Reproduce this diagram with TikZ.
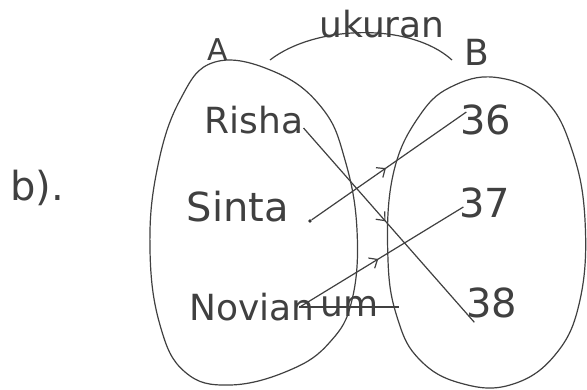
\documentclass[tikz,border=0pt]{standalone}
\usepackage{fontspec}
\newfontfamily\hand{DejaVu Sans}
\usetikzlibrary{arrows.meta,decorations.markings}
\begin{document}
\begin{tikzpicture}[x=1pt,y=-1pt,
  lbl/.style={font=\hand\fontsize{36}{36}\selectfont, text=black!75, inner sep=0pt},
  biglbl/.style={lbl, font=\hand\fontsize{40}{40}\selectfont},
  setline/.style={draw=black!75, line width=1.2pt},
  link/.style={setline, postaction={decorate},
    decoration={markings, mark=at position 0.48 with {\arrow{Straight Barb[length=7pt,width=12pt,line width=1.2pt]}}}},
  dotnode/.style={circle, fill=black!80, inner sep=1.3pt}]
\useasboundingbox (0,0) rectangle (587,389);
\fill[white] (0,0) rectangle (587,389);
% set A
\draw[setline] plot[smooth cycle, tension=0.7] coordinates {(215,62) (275,72) (322,108) (345,160) (357,230) (352,300) (330,342) (290,370) (230,385) (185,372) (160,325) (150,250) (157,170) (180,100)};
% set B
\draw[setline] plot[smooth cycle, tension=0.7] coordinates {(500,78) (545,100) (572,150) (585,220) (580,300) (555,355) (510,385) (460,383) (420,360) (398,320) (388,260) (393,175) (420,115) (455,85)};
% relation arc
\draw[setline] (270,60) .. controls (315,25) and (410,22) .. (452,60);
% labels
\node[biglbl] (b) at (37,188) {b).};
\node[lbl, font=\hand\fontsize{30}{30}\selectfont] (A) at (218,50) {A};
\node[lbl] (B) at (477,52) {B};
\node[lbl] (uk) at (382,24) {ukuran};
\node[lbl] (risha) at (254,120) {Risha};
\node[biglbl] (sinta) at (238,207) {Sinta};
\node[dotnode] (sdot) at (310,221) {};
\node[lbl] (novian) at (252,307) {Novian};
\node[lbl, font=\hand\fontsize{36}{36}\selectfont, anchor=west] (um) at ([xshift=6pt]novian.east) {um};
\draw[setline] ([xshift=-22pt]um.west) -- ([xshift=20pt]um.east);
\node[biglbl] (n36) at (486,120) {36};
\node[biglbl] (n37) at (485,203) {37};
\node[biglbl] (n38) at (492,303) {38};
% connectors
\draw[link] ([yshift=-8pt]risha.east) -- ([xshift=8pt,yshift=-4pt]n38.south west);
\draw[link] (sdot) -- ([xshift=6pt,yshift=8pt]n36.west);
\draw[link] ([xshift=-15pt]novian.east) -- ([xshift=4pt,yshift=-4pt]n37.west);
\end{tikzpicture}
\end{document}
